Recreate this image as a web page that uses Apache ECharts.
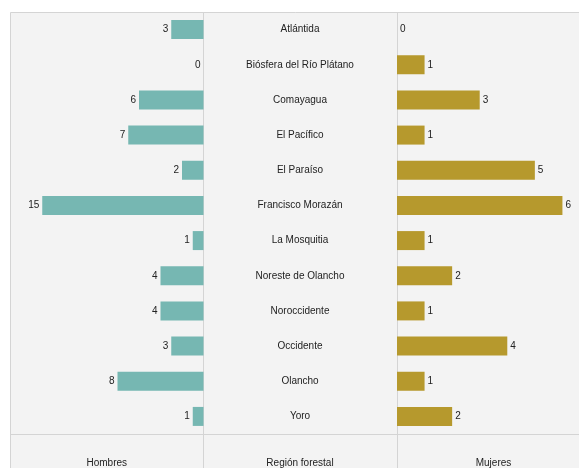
<!DOCTYPE html>
<html><head><meta charset="utf-8">
<script src="https://cdn.jsdelivr.net/npm/echarts@6/dist/echarts.min.js"></script>
<style>html,body{margin:0;padding:0;background:#fff}#c{width:579px;height:468px}</style>
</head><body><div id="c"></div>
<script>
const categories = ['Atlántida','Biósfera del Río Plátano','Comayagua','El Pacífico','El Paraíso','Francisco Morazán','La Mosquitia','Noreste de Olancho','Noroccidente','Occidente','Olancho','Yoro'];
const hombres = [3,0,6,7,2,15,1,4,4,3,8,1];
const mujeres = [0,1,3,1,5,6,1,2,1,4,1,2];
const headers = ['Hombres','Región forestal','Mujeres'];

const chart = echarts.init(document.getElementById('c'), null, {renderer:'canvas'});
const font = 'Liberation Sans, Arial, sans-serif';
const lineColor = '#d4d4d4';
const txt = '#222';
const plotTop = 12, plotBottom = 434;
const plotH = plotBottom - plotTop;
const nameStyle = {color:txt, fontSize:10, fontFamily:font};
const gridBase = {top:plotTop, height:plotH, containLabel:false, outerBoundsMode:'none'};
chart.setOption({
  animation:false,
  graphic:[
    {type:'rect', z:-10, shape:{x:10.5,y:plotTop+0.5,width:600,height:500}, style:{fill:'#f3f3f3', stroke:lineColor, lineWidth:1}},
    {type:'line', z:-9, shape:{x1:203.5,y1:plotTop,x2:203.5,y2:470}, style:{stroke:lineColor,lineWidth:1}},
    {type:'line', z:-9, shape:{x1:397.5,y1:plotTop,x2:397.5,y2:470}, style:{stroke:lineColor,lineWidth:1}},
    {type:'line', z:-9, shape:{x1:10,y1:plotBottom+0.5,x2:600,y2:plotBottom+0.5}, style:{stroke:lineColor,lineWidth:1}}
  ],
  grid:[
    Object.assign({left:10, width:193.5}, gridBase),
    Object.assign({left:203, width:194}, gridBase),
    Object.assign({left:397, width:193}, gridBase)
  ],
  xAxis:[
    {gridIndex:0, type:'value', min:0, max:18, inverse:true, axisLine:{show:false}, axisTick:{show:false}, axisLabel:{show:false}, splitLine:{show:false},
     name:headers[0], nameLocation:'middle', nameGap:24, nameTextStyle:nameStyle},
    {gridIndex:1, type:'value', min:0, max:1, axisLine:{show:false}, axisTick:{show:false}, axisLabel:{show:false}, splitLine:{show:false},
     name:headers[1], nameLocation:'middle', nameGap:24, nameTextStyle:nameStyle},
    {gridIndex:2, type:'value', min:0, max:7, axisLine:{show:false}, axisTick:{show:false}, axisLabel:{show:false}, splitLine:{show:false},
     name:headers[2], nameLocation:'middle', nameGap:24, nameTextStyle:nameStyle}
  ],
  yAxis:[
    {gridIndex:0, type:'category', data:categories, inverse:true, axisLine:{show:false}, axisTick:{show:false}, axisLabel:{show:false}},
    {gridIndex:1, type:'category', data:categories, inverse:true, position:'left', axisLine:{show:false}, axisTick:{show:false},
     axisLabel:{show:true, margin:-97, align:'center', color:txt, fontSize:10, fontFamily:font}},
    {gridIndex:2, type:'category', data:categories, inverse:true, axisLine:{show:false}, axisTick:{show:false}, axisLabel:{show:false}}
  ],
  series:[
    {type:'bar', xAxisIndex:0, yAxisIndex:0, data:hombres, barWidth:19,
     itemStyle:{color:'#76b7b2'},
     label:{show:true, position:'left', distance:3, color:txt, fontSize:10, fontFamily:font}},
    {type:'bar', xAxisIndex:2, yAxisIndex:2, data:mujeres, barWidth:19,
     itemStyle:{color:'#b6992d'},
     label:{show:true, position:'right', distance:3, color:txt, fontSize:10, fontFamily:font}}
  ]
});
</script></body></html>
